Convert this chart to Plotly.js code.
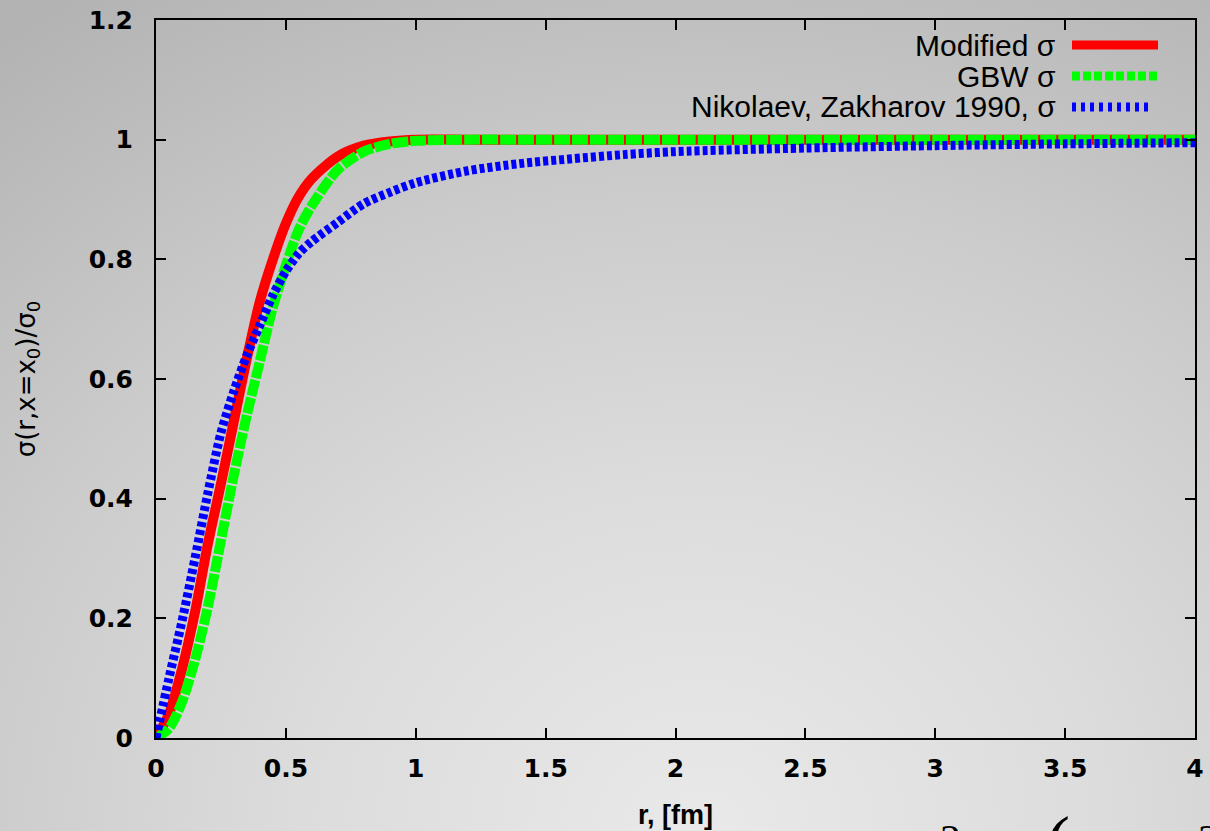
<!DOCTYPE html>
<html>
<head>
<meta charset="utf-8">
<script src="https://cdn.plot.ly/plotly-3.0.1.min.js"></script>
<style>
  html, body { margin: 0; padding: 0; }
  body {
    width: 1210px; height: 831px; overflow: hidden;
    background: radial-gradient(ellipse 95% 120% at 58% 100%, #e9e9e9 0%, #dcdcdc 35%, #cbcbcb 65%, #b3b3b3 100%);
  }
  #chart { width: 1210px; height: 831px; }
</style>
</head>
<body>
<div id="chart"></div>
<script>
// r values [fm]
const rVals = [0, 0.05, 0.1, 0.15, 0.2, 0.25, 0.3, 0.35, 0.4, 0.45, 0.5, 0.55, 0.6, 0.7, 0.8, 0.9, 1.0, 1.2, 1.4, 1.6, 1.8, 2.0, 2.5, 3.0, 3.5, 4.0];
// sigma(r, x=x0)/sigma0
const modifiedSigma = [0, 0.04, 0.115, 0.21, 0.325, 0.425, 0.53, 0.635, 0.73, 0.80, 0.86, 0.905, 0.935, 0.972, 0.99, 0.997, 1.0, 1.0, 1.0, 1.0, 1.0, 1.0, 1.0, 1.0, 1.0, 1.0];
const gbwSigma      = [0, 0.016, 0.06, 0.13, 0.22, 0.33, 0.44, 0.54, 0.63, 0.72, 0.79, 0.85, 0.89, 0.95, 0.98, 0.993, 0.998, 1.0, 1.0, 1.0, 1.0, 1.0, 1.0, 1.0, 1.0, 1.0];
const nzSigma       = [0, 0.10, 0.195, 0.30, 0.41, 0.51, 0.58, 0.64, 0.69, 0.74, 0.78, 0.81, 0.83, 0.862, 0.893, 0.912, 0.928, 0.948, 0.96, 0.968, 0.975, 0.98, 0.986, 0.99, 0.993, 0.995];

const seriesNames  = ['Modified σ', 'GBW σ', 'Nikolaev, Zakharov 1990, σ'];
const seriesValues = [modifiedSigma, gbwSigma, nzSigma];
const seriesColors = ['#ff0000', '#00ff00', '#0000ff'];
const seriesDash   = ['solid', '16px,2px', '5px,3px'];
const legendDash   = ['solid', '8px,3px', '4px,5px'];
const seriesWidth  = [10, 10, 9];

const xTickVals = [0, 0.5, 1, 1.5, 2, 2.5, 3, 3.5, 4];
const yTickVals = [0, 0.2, 0.4, 0.6, 0.8, 1, 1.2];

const traces = seriesNames.map((name, i) => ({
  x: rVals,
  y: seriesValues[i],
  name: name,
  type: 'scatter',
  mode: 'lines',
  line: { color: seriesColors[i], width: seriesWidth[i], dash: seriesDash[i], shape: 'spline', smoothing: 0.8 },
  cliponaxis: true,
  showlegend: false,
  hoverinfo: 'skip'
}));

// plot area in pixels: left 156, right 1195, top 20, bottom 738
const L = 156, R = 1195, T = 20, B = 738;
const px = v => (v - L) / (R - L);
const py = v => (B - v) / (B - T);

const legendRows = [45, 76, 107];
const annotations = [];
const shapes = [];
seriesNames.forEach((name, i) => {
  annotations.push({
    xref: 'paper', yref: 'paper', x: px(1058), y: py(legendRows[i]),
    xanchor: 'right', yanchor: 'middle', showarrow: false,
    text: name,
    font: { family: 'Liberation Sans, Arial, sans-serif', size: 30, color: '#000' }
  });
  shapes.push({
    type: 'line', xref: 'paper', yref: 'paper',
    x0: px(1072), x1: px(i === 2 ? 1152 : 1158), y0: py(legendRows[i]), y1: py(legendRows[i]),
    line: { color: seriesColors[i], width: 9, dash: legendDash[i] }
  });
});

// partial formula fragments at the bottom edge of the slide
const fragTexts = ['2', '(', '2'];
const fragX = [950, 1058, 1208];
const fragTop = [815, 800, 815];
const fragSize = [42, 72, 42];
fragTexts.forEach((t, i) => {
  annotations.push({
    xref: 'paper', yref: 'paper', x: px(fragX[i]), y: py(fragTop[i]),
    xanchor: 'center', yanchor: 'top', showarrow: false, text: t,
    font: { family: 'Liberation Serif, Times New Roman, serif', size: fragSize[i], color: '#000' }
  });
});

const axisCommon = {
  showline: true, linecolor: '#000', linewidth: 2, mirror: 'ticks',
  ticks: 'inside', ticklen: 10, tickwidth: 2, tickcolor: '#000',
  showgrid: false, zeroline: false,
  tickfont: { family: 'DejaVu Sans, Verdana, sans-serif', size: 25, weight: 'bold', color: '#000' }
};

const layout = {
  width: 1210, height: 831,
  margin: { l: L, r: 1210 - R, t: T, b: 831 - B, pad: 0 },
  paper_bgcolor: 'rgba(0,0,0,0)',
  plot_bgcolor: 'rgba(0,0,0,0)',
  showlegend: false,
  xaxis: Object.assign({}, axisCommon, {
    range: [0, 4], tickvals: xTickVals, ticktext: xTickVals.map(String),
    ticklabelstandoff: 7,
    automargin: false,
    title: { text: 'r, [fm]', standoff: 23,
      font: { family: 'Liberation Sans, Arial, sans-serif', size: 27, weight: 'bold', color: '#000' } }
  }),
  yaxis: Object.assign({}, axisCommon, {
    range: [0, 1.2], tickvals: yTickVals, ticktext: yTickVals.map(String),
    ticklabelstandoff: 16,
    automargin: false,
    title: { text: 'σ(r,x=x<sub>0</sub>)/σ<sub>0</sub>', standoff: 46,
      font: { family: 'DejaVu Sans, Verdana, sans-serif', size: 26, color: '#000' } }
  }),
  annotations: annotations,
  shapes: shapes
};

Plotly.newPlot('chart', traces, layout, { staticPlot: true, displayModeBar: false });
</script>
</body>
</html>
